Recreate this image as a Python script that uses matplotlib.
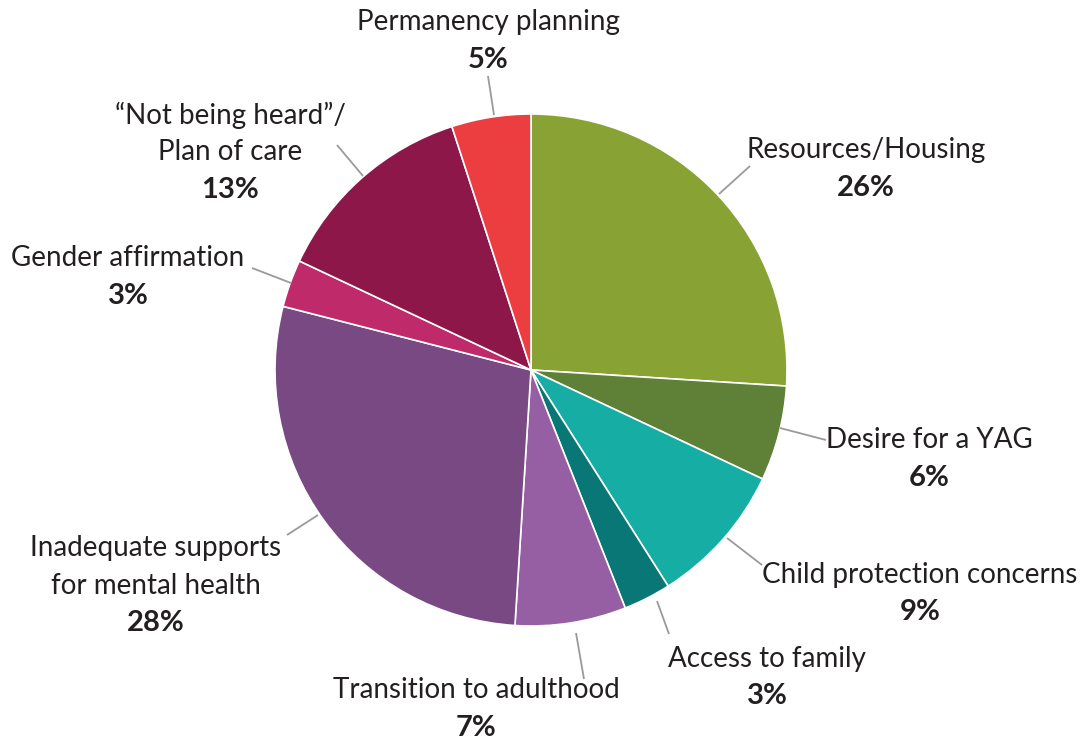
import matplotlib
matplotlib.use("Agg")
import matplotlib.pyplot as plt

categories = [
    "Resources/Housing",
    "Desire for a YAG",
    "Child protection concerns",
    "Access to family",
    "Transition to adulthood",
    "Inadequate supports\nfor mental health",
    "Gender affirmation",
    "\u201cNot being heard\u201d/\nPlan of care",
    "Permanency planning",
]
shares = [26, 6, 9, 3, 7, 28, 3, 13, 5]
colors = ["#88A234", "#5F8037", "#16ADA5", "#087775", "#965FA3",
          "#784983", "#BF2A6B", "#8C1748", "#EC3E41"]

# label anchor (pixel coords, y from top) and leader line endpoints
label_pos = [(866, 150), (929, 440), (920, 575), (767, 659), (476, 690),
             (156, 548), (128, 258), (230, 115), (488, 22)]
leaders = [((719, 194), (750, 166)), ((780, 428), (826, 440)),
           ((727, 538), (762, 565)), ((657, 601), (669, 634)),
           ((576, 633), (584, 679)), ((318, 515), (287, 535)),
           ((291, 283), (252, 268)), ((363, 176), (337, 145)),
           ((494, 115), (488, 76))]

W, H = 1082, 742
family = "Lato"

fig = plt.figure(figsize=(W / 100, H / 100), dpi=100)
ax = fig.add_axes([0, 0, 1, 1])

cx, cy, r = 531, H - 370, 256
ax.pie(shares, colors=colors, startangle=90, counterclock=False,
       center=(cx, cy), radius=r, frame=True,
       wedgeprops=dict(edgecolor="white", linewidth=1.2))
ax.set_xlim(0, W)
ax.set_ylim(0, H)
ax.set_aspect("equal")
ax.axis("off")

text_color = "#231F20"
line_h = 37.5
for name, val, (lx, ly), ((x0, y0), (x1, y1)) in zip(categories, shares, label_pos, leaders):
    ax.plot([x0, x1], [H - y0, H - y1], color="#9A9A9A", lw=1.3, solid_capstyle="butt")
    lines = name.split("\n")
    for i, ln in enumerate(lines):
        ax.text(lx, H - (ly + i * line_h), ln, ha="center", va="center",
                fontsize=20, family=family, color=text_color)
    ax.text(lx, H - (ly + len(lines) * line_h), f"{val}%", ha="center", va="center",
            fontsize=21, family=family, fontweight="bold", color=text_color)

fig.savefig("out.png", dpi=100)
